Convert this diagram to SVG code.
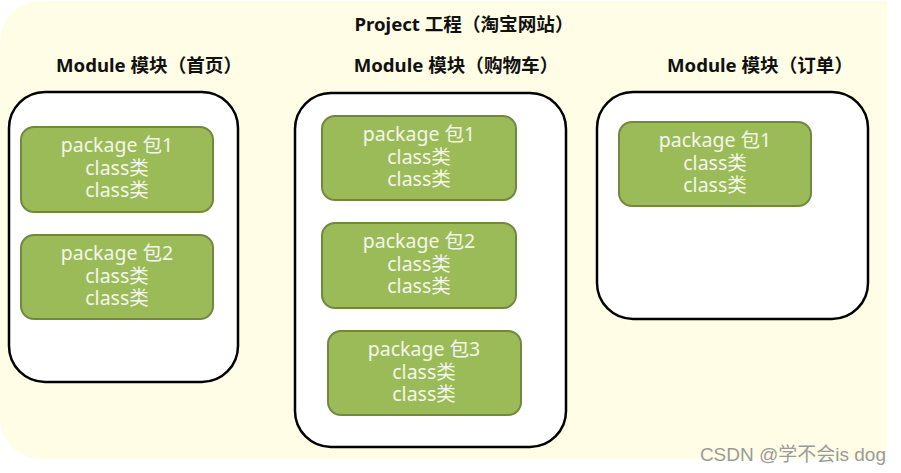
<svg xmlns="http://www.w3.org/2000/svg" width="901" height="473" viewBox="0 0 901 473">
<style>
.module{fill:#ffffff;stroke:#000000;stroke-width:2.5}
.pkg{fill:#9bbb59;stroke:#71893f;stroke-width:2}
.pt{font-family:"Noto Sans","Noto Sans CJK SC",sans-serif;font-size:19.5px;fill:#f4f6ea;text-anchor:middle}
.h{font-family:"Noto Sans","Noto Sans CJK SC",sans-serif;font-size:18.6px;font-weight:bold;fill:#111111;text-anchor:middle}
.wm{font-family:"Liberation Sans","Noto Sans CJK SC",sans-serif;font-size:19px;fill:#9a9a9a;text-anchor:end}
</style>
<rect width="901" height="473" fill="#ffffff"/>
<path d="M40 1 H887 V459 H40 A40 40 0 0 1 0 419 V41 A40 40 0 0 1 40 1 Z" fill="#fffde6"/>
<text class="h" x="464" y="31">Project 工程（淘宝网站）</text>
<g id="connectors"></g>
<g id="module1">
<text class="h" x="149" y="72">Module 模块（首页）</text>
<rect class="module" x="9" y="92" width="229" height="290" rx="36"/>
</g>
<g id="m1pkg1">
<rect class="pkg" x="21" y="127" width="192" height="85" rx="13"/>
<text class="pt" x="117" y="152">package 包1<tspan x="117" dy="22.5">class类</tspan><tspan x="117" dy="22.5">class类</tspan></text>
</g>
<g id="m1pkg2">
<rect class="pkg" x="21" y="235" width="192" height="84" rx="13"/>
<text class="pt" x="117" y="260">package 包2<tspan x="117" dy="22.5">class类</tspan><tspan x="117" dy="22.5">class类</tspan></text>
</g>
<g id="module2">
<text class="h" x="456" y="72">Module 模块（购物车）</text>
<rect class="module" x="295" y="93" width="271" height="354" rx="36"/>
</g>
<g id="m2pkg1">
<rect class="pkg" x="322" y="116" width="194" height="84" rx="13"/>
<text class="pt" x="419" y="141">package 包1<tspan x="419" dy="22.5">class类</tspan><tspan x="419" dy="22.5">class类</tspan></text>
</g>
<g id="m2pkg2">
<rect class="pkg" x="322" y="223" width="194" height="85" rx="13"/>
<text class="pt" x="419" y="248">package 包2<tspan x="419" dy="22.5">class类</tspan><tspan x="419" dy="22.5">class类</tspan></text>
</g>
<g id="m2pkg3">
<rect class="pkg" x="328" y="331" width="193" height="84" rx="13"/>
<text class="pt" x="424" y="356">package 包3<tspan x="424" dy="22.5">class类</tspan><tspan x="424" dy="22.5">class类</tspan></text>
</g>
<g id="module3">
<text class="h" x="760" y="72">Module 模块（订单）</text>
<rect class="module" x="597" y="92" width="271" height="227" rx="36"/>
</g>
<g id="m3pkg1">
<rect class="pkg" x="619" y="122" width="192" height="84" rx="13"/>
<text class="pt" x="715" y="147">package 包1<tspan x="715" dy="22.5">class类</tspan><tspan x="715" dy="22.5">class类</tspan></text>
</g>
<text class="wm" x="886" y="461">CSDN @学不会is dog</text>
</svg>
